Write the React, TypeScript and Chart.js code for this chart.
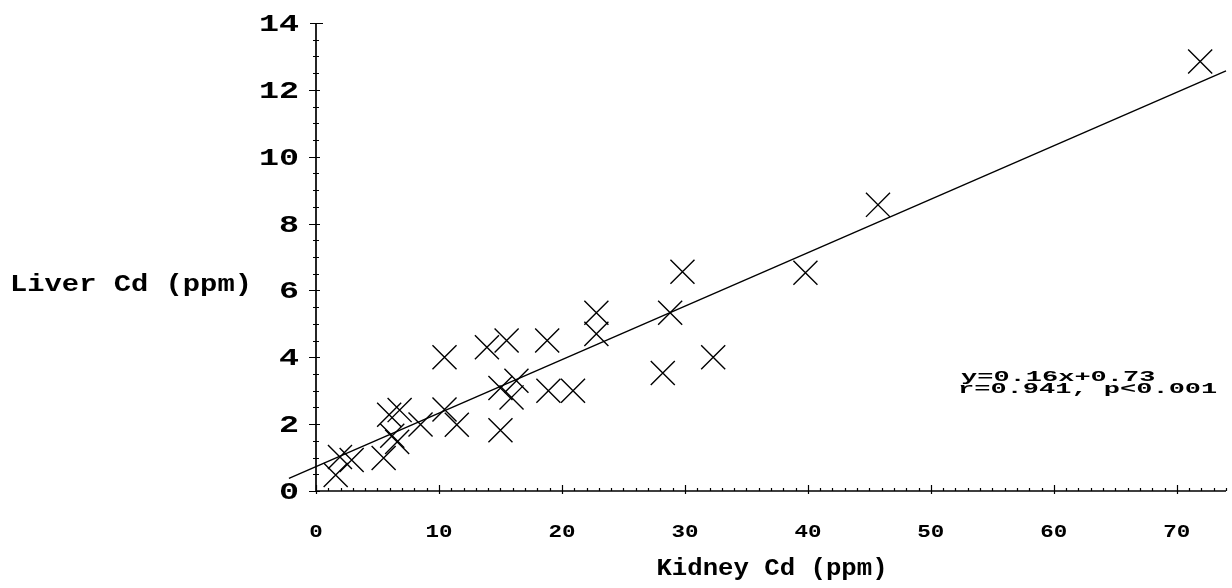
import React, { useEffect, useRef } from "react";
import { Chart, registerables } from "chart.js";

Chart.register(...registerables);

// Kidney Cd (ppm) vs Liver Cd (ppm)
const kidneyCd = [
  1.6, 1.95, 2.9, 5.5, 6.2, 6.6, 5.95, 6.8, 8.5, 10.45, 11.45, 10.45, 13.9, 15.5, 18.8,
  15.0, 16.3, 15.9, 18.9, 20.9, 15.0, 22.8, 22.8, 28.8, 29.8, 28.2, 32.3, 39.8, 45.7, 71.9,
];
const liverCd = [
  0.48, 1.02, 0.93, 0.99, 1.65, 1.47, 2.28, 2.42, 1.99, 2.44, 1.98, 4.0, 4.3, 4.5, 4.5,
  3.08, 3.3, 2.8, 3.0, 3.0, 1.82, 5.33, 4.7, 5.33, 6.56, 3.53, 4.0, 6.53, 8.56, 12.85,
];

// regression line end points
const fitX = [-2.2, 74];
const fitY = [0.38, 12.57];

const xTickValues = [0, 10, 20, 30, 40, 50, 60, 70];
const xTickLabels = ["0", "10", "20", "30", "40", "50", "60", "70"];
const yTickValues = [0, 2, 4, 6, 8, 10, 12, 14];
const yTickLabels = ["0", "2", "4", "6", "8", "10", "12", "14"];

const xTitle = "Kidney Cd (ppm)";
const yTitle = "Liver Cd (ppm)";
const annotationLines = ["y=0.16x+0.73", "r=0.941, p<0.001"];

const FONT = '"Liberation Mono", "DejaVu Sans Mono", monospace';

function drawText(
  ctx: CanvasRenderingContext2D,
  text: string,
  x: number,
  y: number,
  size: number,
  sx: number,
  align: CanvasTextAlign
) {
  ctx.save();
  ctx.translate(x, y);
  ctx.scale(sx, 1);
  ctx.font = `bold ${size}px ${FONT}`;
  ctx.textAlign = align;
  ctx.textBaseline = "alphabetic";
  ctx.fillStyle = "#000";
  ctx.fillText(text, 0, 0);
  ctx.restore();
}

const axesPlugin = {
  id: "classicAxes",
  afterDatasetsDraw(chart: any) {
    const ctx: CanvasRenderingContext2D = chart.ctx;
    const xs = chart.scales.x;
    const ys = chart.scales.y;
    const x0 = xs.getPixelForValue(0);
    const y0 = ys.getPixelForValue(0);
    const xEnd = xs.getPixelForValue(xs.max);
    const yTop = ys.getPixelForValue(ys.max);
    ctx.save();
    ctx.strokeStyle = "#000";
    ctx.lineWidth = 1.7;
    ctx.beginPath();
    ctx.moveTo(x0, y0);
    ctx.lineTo(x0, yTop);
    ctx.moveTo(x0, y0);
    ctx.lineTo(xEnd, y0);
    ctx.stroke();

    ctx.lineWidth = 1.2;
    ctx.beginPath();
    // y ticks
    for (let v = 0; v <= ys.max + 1e-9; v += 0.5) {
      const p = Math.round(ys.getPixelForValue(v)) + 0.5;
      const major = Math.abs(v / 2 - Math.round(v / 2)) < 1e-9;
      if (v === ys.max) {
        ctx.moveTo(x0 - 6, p);
        ctx.lineTo(x0 + 7, p);
      } else if (major) {
        ctx.moveTo(x0 - 7, p);
        ctx.lineTo(x0 + 4, p);
      } else {
        ctx.moveTo(x0 - 3, p);
        ctx.lineTo(x0 + 3, p);
      }
    }
    // x ticks
    for (let v = 0; v <= xs.max + 1e-9; v += 1) {
      const p = Math.round(xs.getPixelForValue(v)) + 0.5;
      const major = v % 10 === 0;
      if (major) {
        ctx.moveTo(p, y0 - 6);
        ctx.lineTo(p, y0 + 3);
      } else {
        ctx.moveTo(p, y0 - 3);
        ctx.lineTo(p, y0);
      }
    }
    ctx.stroke();
    ctx.restore();

    // tick labels
    yTickValues.forEach((v, i) => {
      drawText(ctx, yTickLabels[i], x0 - 17, ys.getPixelForValue(v) + 8, 23, 1.45, "right");
    });
    xTickValues.forEach((v, i) => {
      drawText(ctx, xTickLabels[i], xs.getPixelForValue(v), 537, 18, 1.25, "center");
    });
    // titles
    drawText(ctx, xTitle, 772, 575, 24, 1.07, "center");
    drawText(ctx, yTitle, 10, 291, 24, 1.2, "left");
    // annotation
    drawText(ctx, annotationLines[0], 961, 380.5, 15, 1.8, "left");
    drawText(ctx, annotationLines[1], 958, 393, 15, 1.8, "left");
  },
};

export default function App() {
  const ref = useRef<HTMLCanvasElement | null>(null);
  useEffect(() => {
    if (!ref.current) return;
    const pts = kidneyCd.map((x, i) => ({ x, y: liverCd[i] }));
    const fit = fitX.map((x, i) => ({ x, y: fitY[i] }));
    const chart = new Chart(ref.current, {
      type: "scatter",
      data: {
        datasets: [
          {
            label: "Liver vs Kidney Cd",
            data: pts,
            pointStyle: "crossRot",
            pointRadius: 17,
            pointHoverRadius: 17,
            borderColor: "#000",
            backgroundColor: "#000",
            borderWidth: 1.4,
            showLine: false,
            clip: false,
          } as any,
          {
            type: "line",
            label: "fit",
            data: fit,
            borderColor: "#000",
            borderWidth: 1.4,
            pointRadius: 0,
            showLine: true,
            fill: false,
            tension: 0,
            clip: false,
          } as any,
        ],
      },
      options: {
        animation: false,
        responsive: false,
        events: [],
        layout: { autoPadding: false, padding: { left: 316, right: 6, top: 23, bottom: 97 } },
        plugins: { legend: { display: false }, tooltip: { enabled: false } },
        scales: {
          x: { type: "linear", min: 0, max: 74, display: false },
          y: { type: "linear", min: 0, max: 14, display: false },
        },
      } as any,
      plugins: [axesPlugin],
    });
    return () => chart.destroy();
  }, []);
  return (
    <div style={{ position: "absolute", left: 0, top: 0, width: 1232, height: 588, background: "#fff" }}>
      <canvas ref={ref} width={1232} height={588} />
    </div>
  );
}
